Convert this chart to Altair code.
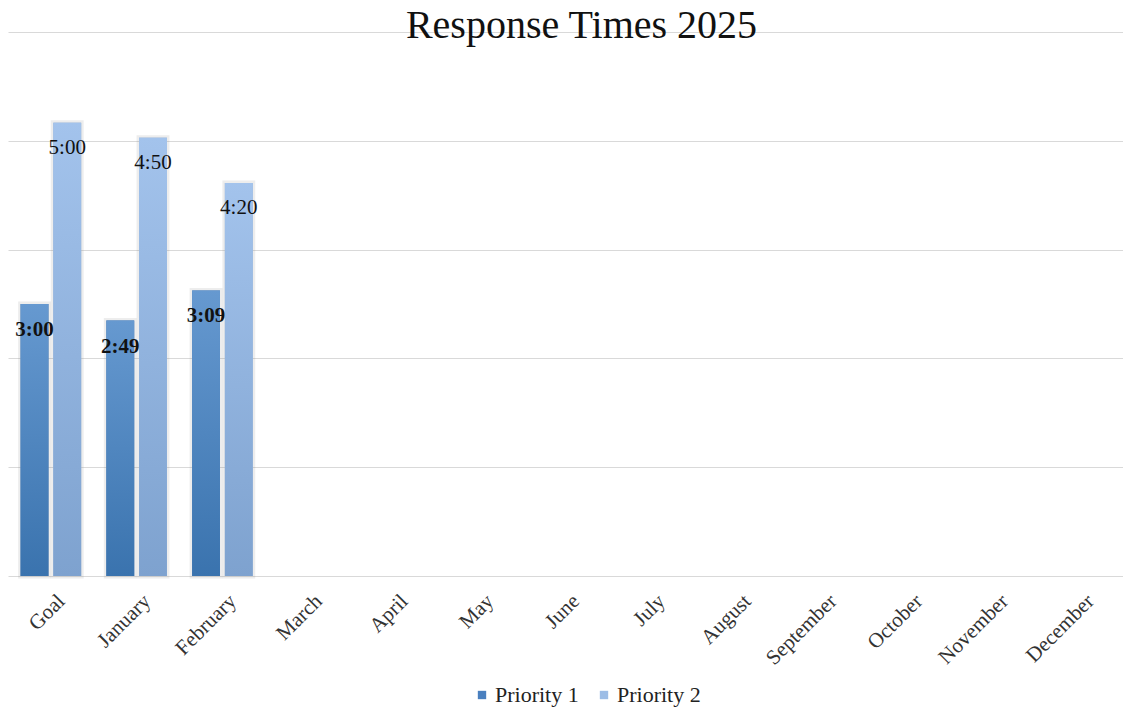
import altair as alt
import pandas as pd

months = ["Goal", "January", "February", "March", "April", "May", "June",
          "July", "August", "September", "October", "November", "December"]
series_names = ["Priority 1", "Priority 2"]
p1_seconds = [180, 169, 189]
p2_seconds = [300, 290, 260]
y_ticks = [0, 72, 144, 216, 288, 360]

rows = []
for name, vals in zip(series_names, [p1_seconds, p2_seconds]):
    for i, s in enumerate(vals):
        rows.append({"month": months[i], "series": name, "sec": s,
                     "label": f"{s // 60}:{s % 60:02d}"})
df = pd.DataFrame(rows)

FONT = "Liberation Serif"

x = alt.X("month:N", sort=months,
          scale=alt.Scale(domain=months, paddingInner=0.294, paddingOuter=0.147),
          axis=alt.Axis(title=None, labelAngle=-45, labelFont=FONT, labelFontSize=21,
                        labelColor="#333333", ticks=False, domain=False, labelPadding=14,
                        labelOffset=3))
xo = alt.XOffset("series:N", scale=alt.Scale(domain=series_names, paddingInner=0.15, paddingOuter=0))
y = alt.Y("sec:Q", scale=alt.Scale(domain=[0, 360], nice=False, zero=True),
          axis=alt.Axis(title=None, values=y_ticks, labels=False, ticks=False, domain=False,
                        grid=True, gridColor="#d9d9d9", gridWidth=1))

base = alt.Chart(df).encode(x=x, xOffset=xo, y=y)

shadow = base.mark_bar(color="#8c8c8c", stroke="#8c8c8c", strokeWidth=5,
                       strokeOpacity=0.25, opacity=0.6)

flat = base.mark_bar().encode(
    color=alt.Color("series:N",
                    scale=alt.Scale(domain=series_names, range=["#4a80bf", "#9dbde6"]),
                    legend=alt.Legend(title=None, orient="none", direction="horizontal",
                                      legendX=463, legendY=652, symbolType="square",
                                      symbolSize=70, labelFont=FONT, labelFontSize=22,
                                      labelColor="#222222", columnPadding=14,
                                      labelOffset=2, symbolStrokeWidth=0))
)

grad1 = alt.Gradient(gradient="linear", x1=0, x2=0, y1=0, y2=1,
                     stops=[alt.GradientStop(color="#6699d0", offset=0),
                            alt.GradientStop(color="#3a73ae", offset=1)])
grad2 = alt.Gradient(gradient="linear", x1=0, x2=0, y1=0, y2=1,
                     stops=[alt.GradientStop(color="#a3c3ec", offset=0),
                            alt.GradientStop(color="#7ea2cf", offset=1)])

bars1 = base.transform_filter(alt.datum.series == "Priority 1").mark_bar(color=grad1)
bars2 = base.transform_filter(alt.datum.series == "Priority 2").mark_bar(color=grad2)

text1 = base.transform_filter(alt.datum.series == "Priority 1").mark_text(
    dy=26, font=FONT, fontSize=21, fontWeight="bold", color="#111111").encode(text="label:N")
text2 = base.transform_filter(alt.datum.series == "Priority 2").mark_text(
    dy=25, font=FONT, fontSize=21, color="#111111").encode(text="label:N")

chart = alt.layer(shadow, flat, bars1, bars2, text1, text2).properties(
    width=1115, height=544,
    title=alt.Title("Response Times 2025", font=FONT, fontSize=40, fontWeight="normal",
                    color="#111111", anchor="middle", offset=0, baseline="alphabetic",
                    dx=16, dy=46),
    autosize=alt.AutoSizeParams(type="none"),
    padding={"left": 0, "top": 24, "right": 0, "bottom": 132},
).configure(font=FONT).configure_view(stroke=None).configure_legend(
    labelFont=FONT, labelFontSize=22)

chart.save("out.html", embed_options={"renderer": "svg", "actions": False})
